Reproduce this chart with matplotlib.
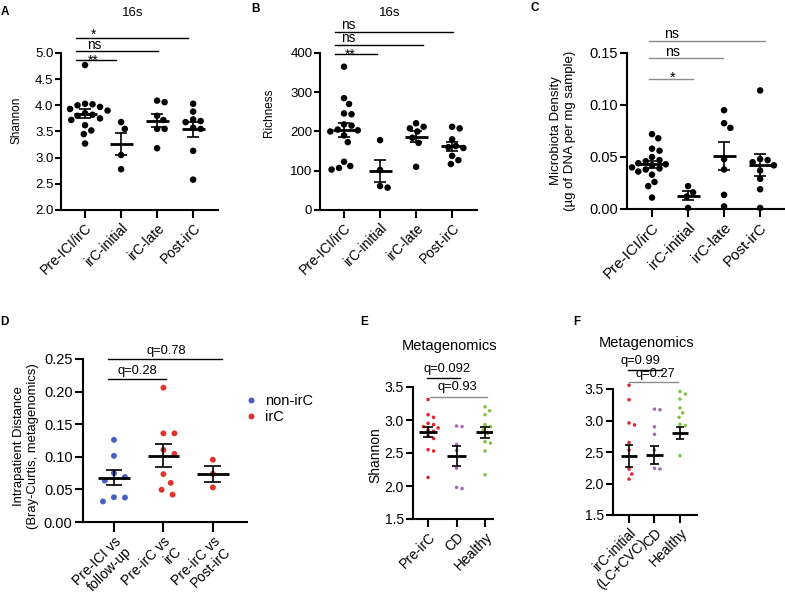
import numpy as np
import matplotlib
matplotlib.use("Agg")
import matplotlib.pyplot as plt
from matplotlib.lines import Line2D

plt.rcParams['font.family'] = ['Liberation Sans', 'DejaVu Sans']

W, H = 785, 597
fig = plt.figure(figsize=(W / 100, H / 100), dpi=100)

# ---------------- data ----------------
groups_16s = ['Pre-ICI/irC', 'irC-initial', 'irC-late', 'Post-irC']

shannon_pre = [4.77, 4.03, 4.02, 4.00, 3.97, 3.93, 3.90, 3.85, 3.82, 3.80, 3.75, 3.72, 3.62, 3.52, 3.45, 3.27]
shannon_init = [3.68, 3.55, 3.05, 2.78]
shannon_late = [4.09, 4.06, 3.80, 3.72, 3.55, 3.55, 3.18]
shannon_post = [4.03, 3.88, 3.73, 3.70, 3.68, 3.57, 3.55, 3.13, 2.58]

richness_pre = [365, 285, 270, 246, 244, 218, 215, 205, 203, 200, 190, 173, 123, 112, 107, 103]
richness_init = [178, 102, 61, 57]
richness_late = [221, 212, 208, 200, 184, 171, 110]
richness_post = [212, 208, 180, 163, 160, 158, 138, 127, 117]

density_pre = [0.072, 0.068, 0.058, 0.056, 0.050, 0.047, 0.046, 0.044, 0.043, 0.042,
               0.040, 0.039, 0.038, 0.036, 0.033, 0.026, 0.022, 0.011]
density_init = [0.022, 0.016, 0.012, 0.001]
density_late = [0.095, 0.0825, 0.078, 0.048, 0.038, 0.0136, 0.0025]
density_post = [0.114, 0.048, 0.047, 0.045, 0.042, 0.037, 0.029, 0.019, 0.001]

dist_labels = ['Pre-ICI vs\nfollow-up', 'Pre-irC vs\nirC', 'Pre-irC vs\nPost-irC']
dist_followup = [0.126, 0.1015, 0.075, 0.069, 0.0635, 0.038, 0.0375, 0.0315]
dist_irc = [0.206, 0.136, 0.136, 0.1106, 0.1045, 0.0734, 0.060, 0.0494, 0.042]
dist_post = [0.0955, 0.074, 0.053]
dist_status = ['non-irC', 'irC', 'irC']

meta_e_labels = ['Pre-irC', 'CD', 'Healthy']
meta_e_pre = [3.31, 3.08, 3.04, 2.95, 2.93, 2.90, 2.88, 2.85, 2.83, 2.76, 2.72, 2.55, 2.53, 2.13]
meta_e_cd = [2.91, 2.90, 2.63, 2.54, 2.27, 1.98, 1.96]
meta_e_healthy = [3.20, 3.14, 3.08, 2.93, 2.90, 2.85, 2.80, 2.67, 2.65, 2.53, 2.17]

meta_f_labels = ['irC-initial\n(LC+CVC)', 'CD', 'Healthy']
meta_f_init = [3.56, 3.33, 2.96, 2.93, 2.65, 2.53, 2.23, 2.15, 2.07]
meta_f_cd = [3.18, 3.17, 2.90, 2.78, 2.53, 2.24, 2.23]
meta_f_healthy = [3.46, 3.42, 3.34, 3.20, 3.12, 3.05, 2.94, 2.92, 2.44]
meta_f_mean = [2.44, 2.45, 2.80]
meta_f_sem = [0.175, 0.145, 0.095]

status_colors = {'non-irC': '#4660c2', 'irC': '#e0342b'}
meta_colors = ['#e0242a', '#b064bf', '#80c24a']


# ---------------- helpers ----------------
def fx(px):
    return px / W


def fy(py):
    return 1 - py / H


def add_axes(l, t, r, b, xlim, ylim):
    ax = fig.add_axes([l / W, 1 - b / H, (r - l) / W, (b - t) / H])
    ax.set_xlim(*xlim)
    ax.set_ylim(*ylim)
    for s in ('top', 'right'):
        ax.spines[s].set_visible(False)
    for s in ('left', 'bottom'):
        ax.spines[s].set_linewidth(1.5)
    ax.patch.set_alpha(0)
    return ax


def swarm_x(ax, vals, pos, coll_px):
    bb = ax.get_position()
    wpx, hpx = bb.width * W, bb.height * H
    x0, x1 = ax.get_xlim()
    y0, y1 = ax.get_ylim()
    sx = wpx / (x1 - x0)
    sy = hpx / (y1 - y0)
    vals = np.asarray(vals, float)
    order = np.argsort(-vals, kind='stable')
    placed = []
    off = np.zeros(len(vals))
    step = coll_px / 6.0
    cands = [0.0]
    for k in range(1, 120):
        cands += [k * step, -k * step]
    for i in order:
        yp = vals[i] * sy
        for c in cands:
            if all((c - px) ** 2 + (yp - py) ** 2 >= coll_px ** 2 for px, py in placed):
                break
        placed.append((c, yp))
        off[i] = c / sx
    return pos + off


def mean_sem_bar(ax, pos, m, s, hw=0.32, cw=0.17, lwm=2.0, lwe=1.2):
    ax.hlines(m, pos - hw, pos + hw, colors='k', lw=lwm, zorder=5)
    ax.vlines(pos, m - s, m + s, colors='k', lw=lwe, zorder=5)
    ax.hlines([m - s, m + s], pos - cw, pos + cw, colors='k', lw=lwe, zorder=5)


def dots(ax, series, colors, size, coll, summary=None):
    for i, vals in enumerate(series):
        xs = swarm_x(ax, vals, i, coll)
        ax.scatter(xs, vals, s=size, color=colors[i], edgecolors='none', zorder=3, clip_on=False)
        if summary is None:
            v = np.asarray(vals, float)
            m = v.mean()
            s = v.std(ddof=1) / np.sqrt(len(v))
        else:
            m, s = summary[0][i], summary[1][i]
        mean_sem_bar(ax, i, m, s)


def style_ticks(ax, labels, fs_x, fs_y, xlen, ylen, yticks, fmt, ls=1.2):
    ax.set_xticks(range(len(labels)))
    ax.set_xticklabels(labels, rotation=45, ha='right', rotation_mode='anchor',
                       fontsize=fs_x, linespacing=ls)
    ax.set_yticks(yticks)
    ax.set_yticklabels([fmt.format(t) for t in yticks], fontsize=fs_y)
    ax.tick_params(axis='x', length=xlen, width=1.5, pad=2)
    ax.tick_params(axis='y', length=ylen, width=1.5, pad=1.5)


def sig(x0, x1, py, label, tx, ty, fs=9.8, lc='k'):
    fig.add_artist(Line2D([fx(x0), fx(x1)], [fy(py), fy(py)], color=lc, lw=1.0))
    fig.text(fx(tx), fy(ty), label, ha='center', va='center', fontsize=fs)


def letter(px, py, s):
    fig.text(fx(px), fy(py), s, ha='center', va='center', fontsize=8.5, fontweight='bold')


# ---------------- Panel A ----------------
axA = add_axes(61, 53, 218, 210, (-0.667, 3.69), (2, 5))
dots(axA, [shannon_pre, shannon_init, shannon_late, shannon_post], ['k'] * 4, 22, 7.5)
style_ticks(axA, groups_16s, 10, 9.5, 6, 4, [2.0, 2.5, 3.0, 3.5, 4.0, 4.5, 5.0], '{:.1f}')
fig.text(fx(16), fy(120), 'Shannon', rotation=90, ha='center', va='center', fontsize=8.5)
fig.text(fx(133), fy(13), '16s', ha='center', va='center', fontsize=9.5)
sig(76, 116, 60, '**', 93, 61)
sig(76, 158, 51, 'ns', 94, 45)
sig(76, 188, 38, '*', 93, 35)
letter(5, 12, 'A')

# ---------------- Panel B ----------------
axB = add_axes(320, 53, 477, 210, (-0.667, 3.69), (0, 400))
dots(axB, [richness_pre, richness_init, richness_late, richness_post], ['k'] * 4, 22, 7.5)
style_ticks(axB, groups_16s, 10, 9.5, 6, 4, [0, 100, 200, 300, 400], '{:.0f}')
fig.text(fx(269), fy(113), 'Richness', rotation=90, ha='center', va='center', fontsize=8.5)
fig.text(fx(390), fy(13), '16s', ha='center', va='center', fontsize=9.5)
sig(335, 377, 54, '**', 350, 55)
sig(335, 423, 45, 'ns', 348, 37.5)
sig(335, 453, 32, 'ns', 348, 25)
letter(255, 9, 'B')

# ---------------- Panel C ----------------
axC = add_axes(627, 53, 785, 209, (-0.694, 3.69), (0, 0.15))
dots(axC, [density_pre, density_init, density_late, density_post], ['k'] * 4, 22, 7.5)
style_ticks(axC, groups_16s, 11, 10.5, 6, 5, [0.00, 0.05, 0.10, 0.15], '{:.2f}')
fig.text(fx(563), fy(131), 'Microbiota Density\n(µg of DNA per mg sample)', rotation=90,
         ha='center', va='center', fontsize=9.5, linespacing=1.25, multialignment='center')
sig(649, 693, 79, '*', 672, 78, fs=10.2, lc='#8c8c8c')
sig(649, 723, 58, 'ns', 673, 52, fs=10.2, lc='#8c8c8c')
sig(649, 765, 41, 'ns', 672, 34, fs=10.2, lc='#8c8c8c')
letter(535, 8, 'C')

# ---------------- Panel D ----------------
axD = add_axes(83, 359, 247, 522, (-0.626, 2.69), (0, 0.25))
dots(axD, [dist_followup, dist_irc, dist_post], [status_colors[s] for s in dist_status], 18, 11)
style_ticks(axD, dist_labels, 10, 10.5, 7, 6, [0.00, 0.05, 0.10, 0.15, 0.20, 0.25], '{:.2f}', ls=1.05)
fig.text(fx(26), fy(446), 'Intrapatient Distance\n(Bray-Curtis, metagenomics)', rotation=90,
         ha='center', va='center', fontsize=9.4, linespacing=1.15, multialignment='center')
sig(108, 166, 379, 'q=0.28', 137, 371, fs=9.3)
sig(108, 222, 359, 'q=0.78', 166, 351, fs=9.3)
handles = [Line2D([], [], ls='none', marker='o', markersize=4.3, markeredgewidth=0,
                  color=status_colors[k], label=k) for k in ['non-irC', 'irC']]
fig.legend(handles=handles, loc='upper left', bbox_to_anchor=(fx(245), fy(394)),
           frameon=False, fontsize=10.5, handlelength=0.8, handletextpad=0.55,
           labelspacing=0.12, borderpad=0, borderaxespad=0)
letter(4, 322, 'D')

# ---------------- Panel E ----------------
axE = add_axes(413, 387, 493, 519, (-0.53, 2.28), (1.5, 3.5))
dots(axE, [meta_e_pre, meta_e_cd, meta_e_healthy], meta_colors, 6.5, 5.5)
style_ticks(axE, meta_e_labels, 10, 10, 6, 5, [1.5, 2.0, 2.5, 3.0, 3.5], '{:.1f}')
fig.text(fx(375), fy(455), 'Shannon', rotation=90, ha='center', va='center', fontsize=10)
fig.text(fx(450), fy(346), 'Metagenomics', ha='center', va='center', fontsize=10.5)
sig(427, 460, 378, 'q=0.092', 447, 369, fs=9.3)
sig(430, 487, 397, 'q=0.93', 457, 387, fs=9.3, lc='#8c8c8c')
letter(364, 322, 'E')

# ---------------- Panel F ----------------
axF = add_axes(613, 389, 697, 515, (-0.63, 2.67), (1.5, 3.5))
dots(axF, [meta_f_init, meta_f_cd, meta_f_healthy], meta_colors, 6.5, 5.5,
     summary=(meta_f_mean, meta_f_sem))
style_ticks(axF, meta_f_labels, 10, 10, 6, 5, [1.5, 2.0, 2.5, 3.0, 3.5], '{:.1f}', ls=1.05)
fig.text(fx(647), fy(343), 'Metagenomics', ha='center', va='center', fontsize=10.5)
sig(628, 662, 370, 'q=0.99', 640, 361, fs=9.3)
sig(629, 678, 382, 'q=0.27', 655, 374, fs=9.3, lc='#8c8c8c')
letter(577, 322, 'F')

fig.savefig('out.png', dpi=100)
